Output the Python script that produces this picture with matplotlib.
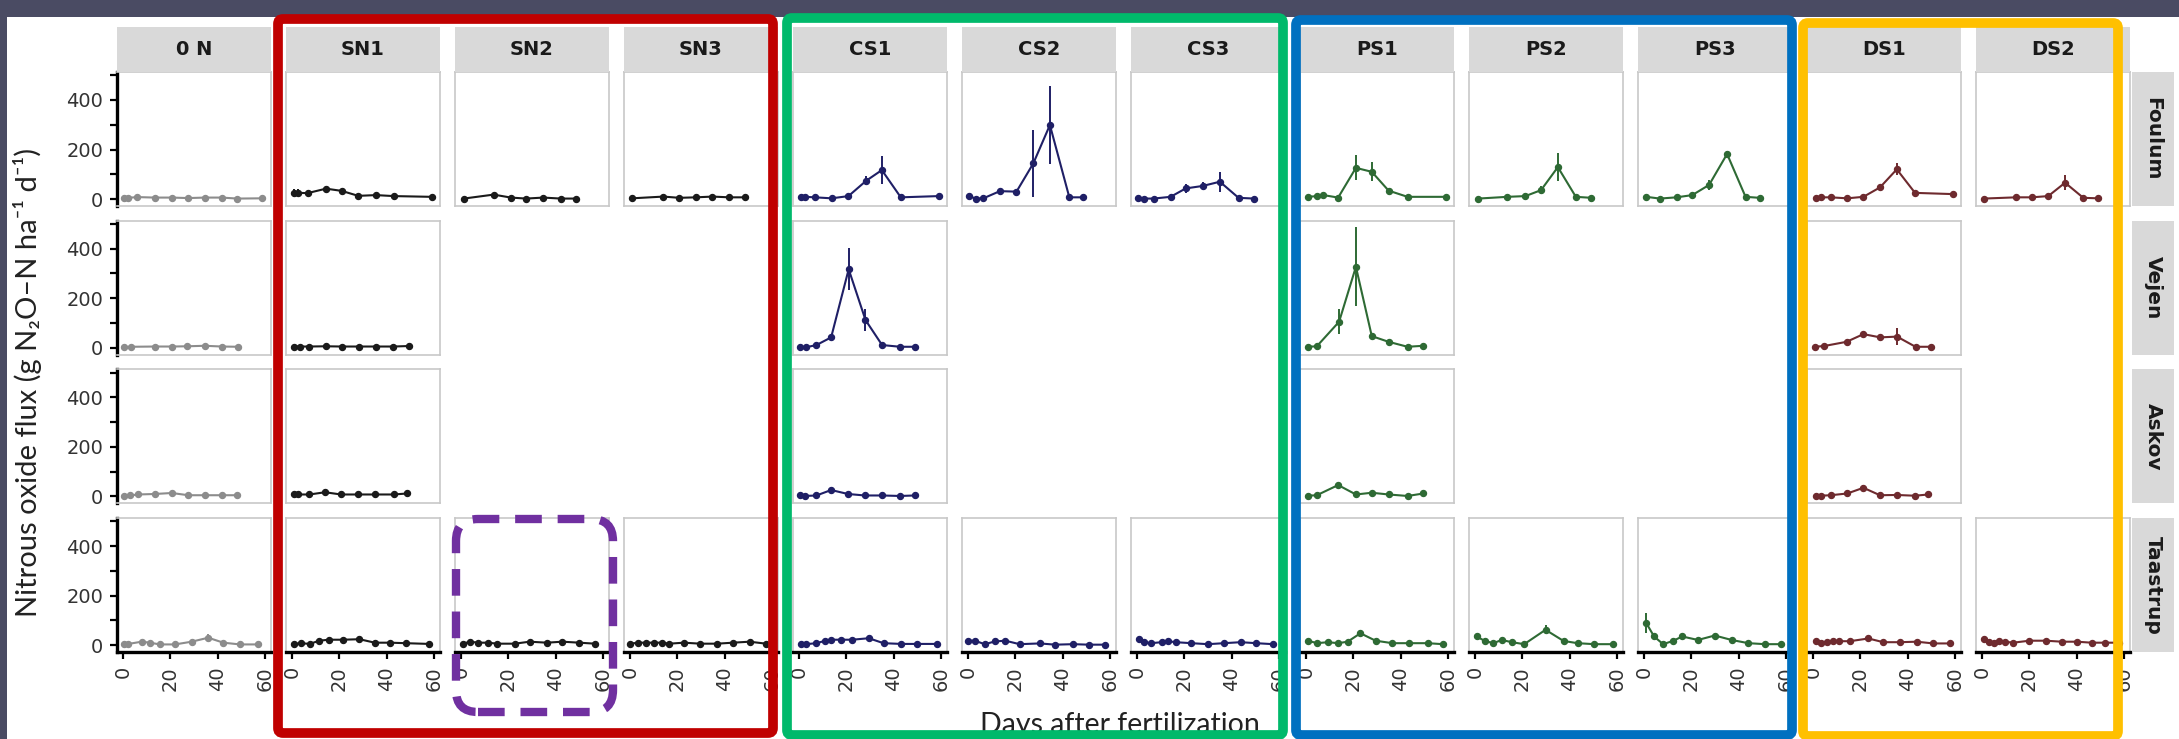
import matplotlib.pyplot as plt
from matplotlib.patches import Rectangle, FancyBboxPatch

plt.rcParams['font.family'] = ['Lato', 'DejaVu Sans']

W, H = 2179, 739

treatments = ["0 N", "SN1", "SN2", "SN3", "CS1", "CS2", "CS3", "PS1", "PS2", "PS3", "DS1", "DS2"]
sites = ["Foulum", "Vejen", "Askov", "Taastrup"]
colors = {"0": "#8c8c8c", "S": "#1a1a1a", "C": "#1f1f66", "P": "#2e6a34", "D": "#6e2a2e"}

# ---- Foulum ----
foulum_0n_day = [0.4, 2.3, 6, 13.5, 20.6, 27.6, 34.6, 41.7, 48.3, 58.6]
foulum_0n_flux = [4, 5, 8, 6, 6, 4, 6, 6, 2, 3]
foulum_sn1_day = [0.7, 2.7, 6.6, 14.4, 21, 28, 35.5, 43, 59]
foulum_sn1_flux = [25, 25, 24, 42, 33, 13, 16, 12, 9]
foulum_sn1_err = [15, 14, 4, 5, 4, 3, 3, 3, 3]
foulum_sn2_day = [1.2, 13.8, 21.1, 27.5, 34.8, 42.1, 48.6]
foulum_sn2_flux = [2, 18, 6, 2, 6, 2, 2]
foulum_sn3_day = [0.9, 14.1, 20.9, 27.9, 34.8, 42, 48.6]
foulum_sn3_flux = [3, 10, 5, 7, 10, 7, 7]
foulum_cs1_day = [0.7, 2.5, 6.8, 13.8, 20.9, 28.4, 35, 43, 59]
foulum_cs1_flux = [9, 9, 7, 3, 12, 74, 117, 7, 12]
foulum_cs1_err = [5, 4, 3, 3, 5, 18, 57, 4, 4]
foulum_cs2_day = [0.3, 3.4, 6.5, 13.5, 20.5, 27.6, 34.6, 42.8, 48.4]
foulum_cs2_flux = [12, 2, 3, 32, 30, 144, 299, 7, 7]
foulum_cs2_err = [6, 3, 3, 8, 6, 135, 156, 4, 4]
foulum_cs3_day = [0.4, 2.9, 7, 14.2, 20.6, 27.8, 35, 42.9, 49.5]
foulum_cs3_flux = [5, 2, 2, 9, 43, 53, 70, 5, 2]
foulum_cs3_err = [4, 3, 3, 5, 18, 15, 40, 3, 3]
foulum_ps1_day = [1, 4.6, 7.4, 13.6, 21.1, 27.8, 34.9, 42.9, 59]
foulum_ps1_flux = [9, 12, 16, 6, 126, 110, 34, 9, 9]
foulum_ps1_err = [5, 5, 5, 3, 50, 38, 8, 4, 4]
foulum_ps2_day = [1.4, 13.7, 21.3, 27.9, 35, 42.6, 49.2]
foulum_ps2_flux = [2, 9, 12, 36, 129, 9, 5]
foulum_ps2_err = [4, 3, 4, 15, 57, 4, 4]
foulum_ps3_day = [1, 6.7, 13.8, 20.4, 27.5, 35.1, 42.9, 48.8]
foulum_ps3_flux = [9, 2, 7, 16, 57, 182, 9, 5]
foulum_ps3_err = [3, 3, 3, 6, 20, 12, 4, 3]
foulum_ds1_day = [1.3, 3.2, 7.5, 14.5, 21.3, 28.3, 35.4, 43.1, 59.3]
foulum_ds1_flux = [3, 7, 7, 3, 9, 47, 120, 25, 20]
foulum_ds1_err = [3, 3, 3, 3, 4, 10, 24, 6, 4]
foulum_ds2_day = [0.8, 14.4, 21, 28, 35.1, 42.8, 49.1]
foulum_ds2_flux = [2, 7, 7, 12, 66, 5, 3]
foulum_ds2_err = [3, 3, 3, 4, 30, 3, 3]

# ---- Vejen ----
vejen_0n_day = [0.5, 3.5, 13.5, 20.7, 27.2, 34.5, 41.8, 48.6]
vejen_0n_flux = [3, 4, 5, 5, 6, 8, 5, 4]
vejen_sn1_day = [0.8, 3.2, 7.3, 14.2, 21, 28.2, 35.3, 42.8, 49.3]
vejen_sn1_flux = [5, 5, 5, 6, 5, 5, 5, 5, 7]
vejen_cs1_day = [0.4, 3, 7.4, 13.6, 21, 28.1, 35.1, 42.7, 48.9]
vejen_cs1_flux = [2, 2, 11, 42, 317, 112, 11, 4, 4]
vejen_cs1_err = [2, 2, 4, 10, 85, 43, 4, 3, 3]
vejen_ps1_day = [1, 4.6, 14, 21.1, 27.8, 34.9, 42.9, 49.6]
vejen_ps1_flux = [4, 6, 105, 327, 47, 24, 4, 8]
vejen_ps1_err = [3, 3, 50, 160, 8, 5, 3, 3]
vejen_ds1_day = [0.7, 4.7, 14.2, 21.3, 28.4, 35.5, 43.3, 49.7]
vejen_ds1_flux = [4, 7, 24, 55, 42, 45, 4, 4]
vejen_ds1_err = [3, 3, 5, 8, 6, 34, 3, 3]

# ---- Askov ----
askov_0n_day = [0.4, 2.9, 6.4, 13.5, 20.6, 27.6, 34.6, 41.7, 48.3]
askov_0n_flux = [3, 4, 8, 10, 14, 5, 5, 5, 5]
askov_sn1_day = [0.7, 2.7, 7.4, 14, 20.7, 28, 35, 43, 48.6]
askov_sn1_flux = [8, 8, 8, 17, 8, 8, 8, 8, 12]
askov_cs1_day = [0.4, 2.6, 7.4, 13.6, 20.7, 27.8, 35.1, 42.7, 48.9]
askov_cs1_flux = [4, 2, 4, 26, 10, 4, 4, 2, 4]
askov_ps1_day = [1, 4.6, 13.6, 21.1, 27.8, 34.9, 42.9, 49.6]
askov_ps1_flux = [3, 5, 46, 8, 15, 8, 2, 12]
askov_ps1_err = [2, 2, 8, 3, 4, 3, 2, 3]
askov_ds1_day = [1.3, 3.2, 7.5, 14.5, 21.3, 28.3, 35.4, 43.1, 48.7]
askov_ds1_flux = [3, 3, 5, 12, 35, 5, 6, 3, 8]
askov_ds1_err = [2, 2, 2, 3, 12, 2, 2, 2, 2]

# ---- Taastrup ----
taastrup_0n_day = [0.4, 2.3, 7.9, 11.4, 15.6, 22, 29, 36, 42.4, 49.4, 57.2]
taastrup_0n_flux = [3, 5, 14, 10, 3, 3, 14, 30, 10, 3, 3]
taastrup_0n_err = [2, 2, 4, 3, 2, 2, 3, 15, 3, 2, 2]
taastrup_sn1_day = [1, 4, 7.5, 11.5, 15.5, 21.5, 28.5, 35, 41.5, 48, 58]
taastrup_sn1_flux = [5, 8, 5, 18, 22, 22, 24, 10, 10, 8, 5]
taastrup_sn2_day = [0.8, 3.8, 7.4, 11.4, 15.4, 22.7, 29, 36.3, 42.8, 50, 56.6]
taastrup_sn2_flux = [6, 14, 10, 10, 6, 6, 14, 10, 14, 10, 6]
taastrup_sn3_day = [0.2, 3.4, 6.8, 10, 13.7, 16.6, 22.8, 29.7, 36.8, 43.5, 50.5, 57.5]
taastrup_sn3_flux = [6, 10, 10, 10, 10, 6, 10, 6, 6, 10, 14, 6]
taastrup_cs1_day = [0.8, 3, 7.4, 11.2, 13.6, 17.8, 22.5, 29.5, 35.7, 43.2, 49.9, 58.3]
taastrup_cs1_flux = [5, 4, 8, 18, 22, 22, 22, 28, 8, 5, 5, 5]
taastrup_cs2_day = [0.1, 2.9, 7.1, 11.4, 15.8, 21.8, 30.3, 36.9, 44.4, 51, 57.7]
taastrup_cs2_flux = [18, 18, 4, 15, 18, 4, 7, 2, 4, 2, 2]
taastrup_cs3_day = [1, 2.9, 6, 10.4, 13, 16.4, 23, 30, 36.8, 43.8, 50.4, 57.5]
taastrup_cs3_flux = [26, 12, 8, 12, 16, 12, 8, 4, 8, 12, 8, 4]
taastrup_ps1_day = [1, 4.6, 9.3, 13.6, 17.6, 23, 29.4, 36.5, 43.6, 51.4, 57.8]
taastrup_ps1_flux = [18, 8, 12, 8, 14, 48, 18, 8, 8, 8, 4]
taastrup_ps2_day = [0.7, 4.2, 7.8, 11.3, 15.6, 20.8, 29.8, 37.4, 43.3, 50.4, 58.2]
taastrup_ps2_flux = [35, 17, 8, 21, 12, 4, 62, 17, 8, 4, 4]
taastrup_ps2_err = [12, 4, 3, 4, 3, 2, 18, 4, 3, 2, 2]
taastrup_ps3_day = [1, 4.3, 8.1, 12.2, 16.2, 22.8, 29.9, 37, 44.1, 51.2, 57.9]
taastrup_ps3_flux = [89, 35, 4, 17, 35, 21, 39, 21, 8, 4, 4]
taastrup_ps3_err = [40, 8, 3, 4, 6, 4, 6, 4, 3, 2, 2]
taastrup_ds1_day = [1.3, 3.2, 5.8, 8.3, 11.1, 15.6, 23.4, 29.7, 36.8, 43.8, 50.8, 57.9]
taastrup_ds1_flux = [16, 10, 12, 16, 16, 16, 27, 12, 12, 14, 7, 7]
taastrup_ds2_day = [0.8, 3.1, 5.1, 7.3, 9.7, 13.2, 20, 27, 33.7, 40, 46.3, 52, 58]
taastrup_ds2_flux = [24, 14, 10, 18, 14, 10, 18, 18, 14, 14, 10, 10, 10]

panels = {
    ("Foulum", "0 N"): (foulum_0n_day, foulum_0n_flux, None),
    ("Foulum", "SN1"): (foulum_sn1_day, foulum_sn1_flux, foulum_sn1_err),
    ("Foulum", "SN2"): (foulum_sn2_day, foulum_sn2_flux, None),
    ("Foulum", "SN3"): (foulum_sn3_day, foulum_sn3_flux, None),
    ("Foulum", "CS1"): (foulum_cs1_day, foulum_cs1_flux, foulum_cs1_err),
    ("Foulum", "CS2"): (foulum_cs2_day, foulum_cs2_flux, foulum_cs2_err),
    ("Foulum", "CS3"): (foulum_cs3_day, foulum_cs3_flux, foulum_cs3_err),
    ("Foulum", "PS1"): (foulum_ps1_day, foulum_ps1_flux, foulum_ps1_err),
    ("Foulum", "PS2"): (foulum_ps2_day, foulum_ps2_flux, foulum_ps2_err),
    ("Foulum", "PS3"): (foulum_ps3_day, foulum_ps3_flux, foulum_ps3_err),
    ("Foulum", "DS1"): (foulum_ds1_day, foulum_ds1_flux, foulum_ds1_err),
    ("Foulum", "DS2"): (foulum_ds2_day, foulum_ds2_flux, foulum_ds2_err),
    ("Vejen", "0 N"): (vejen_0n_day, vejen_0n_flux, None),
    ("Vejen", "SN1"): (vejen_sn1_day, vejen_sn1_flux, None),
    ("Vejen", "CS1"): (vejen_cs1_day, vejen_cs1_flux, vejen_cs1_err),
    ("Vejen", "PS1"): (vejen_ps1_day, vejen_ps1_flux, vejen_ps1_err),
    ("Vejen", "DS1"): (vejen_ds1_day, vejen_ds1_flux, vejen_ds1_err),
    ("Askov", "0 N"): (askov_0n_day, askov_0n_flux, None),
    ("Askov", "SN1"): (askov_sn1_day, askov_sn1_flux, None),
    ("Askov", "CS1"): (askov_cs1_day, askov_cs1_flux, None),
    ("Askov", "PS1"): (askov_ps1_day, askov_ps1_flux, askov_ps1_err),
    ("Askov", "DS1"): (askov_ds1_day, askov_ds1_flux, askov_ds1_err),
    ("Taastrup", "0 N"): (taastrup_0n_day, taastrup_0n_flux, taastrup_0n_err),
    ("Taastrup", "SN1"): (taastrup_sn1_day, taastrup_sn1_flux, None),
    ("Taastrup", "SN2"): (taastrup_sn2_day, taastrup_sn2_flux, None),
    ("Taastrup", "SN3"): (taastrup_sn3_day, taastrup_sn3_flux, None),
    ("Taastrup", "CS1"): (taastrup_cs1_day, taastrup_cs1_flux, None),
    ("Taastrup", "CS2"): (taastrup_cs2_day, taastrup_cs2_flux, None),
    ("Taastrup", "CS3"): (taastrup_cs3_day, taastrup_cs3_flux, None),
    ("Taastrup", "PS1"): (taastrup_ps1_day, taastrup_ps1_flux, None),
    ("Taastrup", "PS2"): (taastrup_ps2_day, taastrup_ps2_flux, taastrup_ps2_err),
    ("Taastrup", "PS3"): (taastrup_ps3_day, taastrup_ps3_flux, taastrup_ps3_err),
    ("Taastrup", "DS1"): (taastrup_ds1_day, taastrup_ds1_flux, None),
    ("Taastrup", "DS2"): (taastrup_ds2_day, taastrup_ds2_flux, None),
}

# layout in pixels of the 2179x739 picture
PX0, PITCH_X, PW = 117, 169, 154
PY0, PITCH_Y, PH = 72, 148.7, 134
STRIP_GREY = "#d9d9d9"
BORDER_GREY = "#c8c8c8"

fig = plt.figure(figsize=(W / 100, H / 100), dpi=100)
fig.patch.set_facecolor("#4a4b63")


def inch(px, py):
    return px / 100, (H - py) / 100


# white page inside the dark frame
x0, y0 = inch(7, H)
fig.add_artist(Rectangle((x0, y0), (W - 7) / 100, (H - 17) / 100, transform=fig.dpi_scale_trans,
                         facecolor="white", edgecolor="none", zorder=-5))

for j, site in enumerate(sites):
    top = PY0 + PITCH_Y * j
    for i, trt in enumerate(treatments):
        if (site, trt) not in panels:
            continue
        left = PX0 + PITCH_X * i
        ax = fig.add_axes([left / W, 1 - (top + PH) / H, PW / W, PH / H])
        day, flux, err = panels[(site, trt)]
        c = colors[trt[0]]
        if err is None:
            ax.plot(day, flux, color=c, lw=1.5, marker="o", ms=4.3, zorder=3)
        else:
            ax.errorbar(day, flux, yerr=err, color=c, lw=1.5, marker="o", ms=4.3,
                        elinewidth=1.4, capsize=0, zorder=3)
        ax.set_xlim(-2.5, 62.5)
        ax.set_ylim(-28, 513)
        for s in ax.spines.values():
            s.set_color(BORDER_GREY)
            s.set_linewidth(1.2)
        ax.set_xticks([0, 20, 40, 60])
        ax.set_yticks([0, 200, 400])
        ax.set_yticks([100, 300, 500], minor=True)
        ax.set_xticks([], minor=True)
        ax.tick_params(which="both", direction="out", color="black", width=1.6)
        ax.tick_params(which="major", length=5)
        ax.tick_params(which="minor", length=5)
        if i == 0:
            ax.spines["left"].set_color("black")
            ax.spines["left"].set_linewidth(2.4)
            ax.tick_params(axis="y", labelsize=14, labelcolor="#333333", pad=5)
            for lab in ax.get_yticklabels():
                lab.set_family("DejaVu Sans")
        else:
            ax.tick_params(axis="y", which="both", left=False, labelleft=False)
        if j == len(sites) - 1:
            ax.spines["bottom"].set_color("black")
            ax.spines["bottom"].set_linewidth(2.4)
            ax.tick_params(axis="x", labelsize=14, labelcolor="#333333", labelrotation=90, pad=5)
            for lab in ax.get_xticklabels():
                lab.set_family("DejaVu Sans")
        else:
            ax.tick_params(axis="x", which="both", bottom=False, labelbottom=False)

# top strips
for i, trt in enumerate(treatments):
    left = PX0 + PITCH_X * i
    x, y = inch(left, PY0)
    fig.add_artist(Rectangle((x, y), PW / 100, 45 / 100, transform=fig.dpi_scale_trans,
                             facecolor=STRIP_GREY, edgecolor="none", zorder=1))
    fig.text((left + PW / 2) / W, 1 - (PY0 - 22.5) / H, trt, ha="center", va="center",
             fontsize=14, fontweight="bold", family="DejaVu Sans", color="#1a1a1a")

# right strips
for j, site in enumerate(sites):
    top = PY0 + PITCH_Y * j
    x, y = inch(2132, top + PH)
    fig.add_artist(Rectangle((x, y), 42 / 100, PH / 100, transform=fig.dpi_scale_trans,
                             facecolor=STRIP_GREY, edgecolor="none", zorder=1))
    fig.text(2153 / W, 1 - (top + PH / 2) / H, site, ha="center", va="center", rotation=-90,
             fontsize=14.5, fontweight="bold", family="DejaVu Sans", color="#1a1a1a")

# axis titles
fig.text(28 / W, 1 - 382 / H, "Nitrous oxide flux (g N\u2082O\u2013N ha\u207b\u00b9 d\u207b\u00b9)",
         rotation=90, ha="center", va="center", fontsize=21, color="#222222")
fig.text(1120 / W, 1 - 712 / H, "Days after fertilization", ha="center", va="top",
         fontsize=20.5, color="#222222")


# coloured highlight frames
def frame(x0, y0, x1, y1, color, ls="-", r=5, lw=7):
    bx, by = inch(x0, y1)
    fig.add_artist(FancyBboxPatch((bx, by), (x1 - x0) / 100, (y1 - y0) / 100,
                                  boxstyle=f"round,pad=0,rounding_size={r / 100}",
                                  transform=fig.dpi_scale_trans, facecolor="none",
                                  edgecolor=color, linewidth=lw, linestyle=ls, zorder=10))


frame(278, 19, 773, 733, "#c00000")
frame(787, 18, 1283, 735, "#00b96b")
frame(1296, 20, 1792, 735, "#0070c0")
frame(1803, 23, 2118, 736, "#ffc000")
frame(456, 519, 613, 712, "#7030a0", ls=(0, (3.2, 1.9)), r=22, lw=6)

fig.savefig("out.png", dpi=100, facecolor=fig.get_facecolor())
